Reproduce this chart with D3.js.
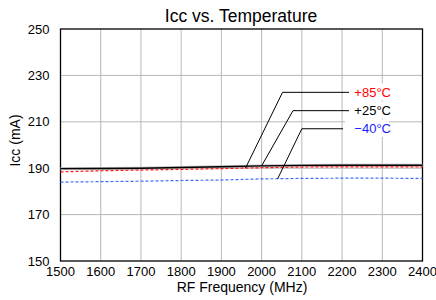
<html>
<head><meta charset="utf-8"/></head>
<script src="https://d3js.org/d3.v7.min.js"></script>
<style>
  body { margin: 0; background: #fff; }
  text { font-family: "Liberation Sans", Arial, sans-serif; }
</style>
<body>
<svg id="chart" width="436" height="300"></svg>
<script>
var freq = [1500, 1600, 1700, 1800, 1900, 2000, 2100, 2200, 2300, 2400];
var icc25 = [189.8, 189.9, 190.0, 190.3, 190.6, 191.0, 191.2, 191.3, 191.3, 191.3];
var icc85 = [188.4, 188.9, 189.2, 189.5, 189.8, 190.2, 190.5, 190.6, 190.6, 190.5];
var iccM40 = [184.0, 184.2, 184.4, 184.7, 184.9, 185.4, 185.6, 185.7, 185.7, 185.6];
var yTicks = [150, 170, 190, 210, 230, 250];
var xTicks = [1500, 1600, 1700, 1800, 1900, 2000, 2100, 2200, 2300, 2400];
var labels = ["+85°C", "+25°C", "\u221240°C"];

var svg = d3.select("#chart");
var mLeft = 60.5, mRight = 422.5, mTop = 29, mBottom = 261;

var x = d3.scaleLinear().domain([1500, 2400]).range([mLeft, mRight]);
var y = d3.scaleLinear().domain([150, 250]).range([mBottom, mTop]);

// grid
svg.append("g").selectAll("line").data(xTicks.slice(1, -1)).enter().append("line")
  .attr("x1", d => x(d)).attr("x2", d => x(d)).attr("y1", mTop).attr("y2", mBottom)
  .attr("stroke", "#b8b8b8").attr("stroke-width", 1);
svg.append("g").selectAll("line").data(yTicks.slice(1, -1)).enter().append("line")
  .attr("x1", mLeft).attr("x2", mRight).attr("y1", d => y(d)).attr("y2", d => y(d))
  .attr("stroke", "#b8b8b8").attr("stroke-width", 1);

svg.append("rect").attr("x", mLeft).attr("y", mTop)
  .attr("width", mRight - mLeft).attr("height", mBottom - mTop)
  .attr("fill", "none").attr("stroke", "#000").attr("stroke-width", 1.3);

// tick labels
svg.append("g").selectAll("text").data(yTicks).enter().append("text")
  .attr("x", 49.5).attr("y", d => y(d)).attr("dy", "0.35em")
  .attr("text-anchor", "end").attr("font-size", 13).text(d => d);
svg.append("g").selectAll("text").data(xTicks).enter().append("text")
  .attr("x", d => x(d)).attr("y", 276)
  .attr("text-anchor", "middle").attr("font-size", 13).text(d => d);

svg.append("text").attr("x", 241).attr("y", 22).attr("text-anchor", "middle")
  .attr("font-size", 17.5).text("Icc vs. Temperature");
svg.append("text").attr("x", 242).attr("y", 292).attr("text-anchor", "middle")
  .attr("font-size", 14).text("RF Frequency (MHz)");
svg.append("text").attr("transform", "translate(20,140.5) rotate(-90)")
  .attr("text-anchor", "middle").attr("font-size", 14).text("Icc (mA)");

var line = d3.line().x((d, i) => x(freq[i])).y(d => y(d));

var series = [
  {v: iccM40, color: "#3f6fff", dash: "3,2", w: 1.2},
  {v: icc25, color: "#000", dash: null, w: 1.4},
  {v: icc85, color: "#ff1a1a", dash: "3,2", w: 1.2}
];
svg.append("path").datum(icc25).attr("d", line).attr("fill", "none")
  .attr("stroke", "#bbb").attr("stroke-width", 3);
series.forEach(function(s) {
  svg.append("path").datum(s.v).attr("d", line).attr("fill", "none")
    .attr("stroke", s.color).attr("stroke-width", s.w)
    .attr("stroke-dasharray", s.dash);
});

// annotations: point on curve (freq), elbow (freq, Icc), text position
var ann = [
  {f: 1960, s: icc85, ex: 2052, ey: 222.7, lx: 349, color: "#ff0000"},
  {f: 2000, s: icc25, ex: 2078, ey: 214.8, lx: 349, color: "#000"},
  {f: 2040, s: iccM40, ex: 2100, ey: 207.0, lx: 343, color: "#1a1aff"}
];
ann.forEach(function(a, k) {
  var i = freq.indexOf(Math.floor(a.f / 100) * 100);
  var t = (a.f - freq[i]) / 100;
  var v = a.s[i] + t * (a.s[i + 1] - a.s[i]);
  svg.append("rect").attr("x", a.lx + 2).attr("y", y(a.ey) - 9)
    .attr("width", 44).attr("height", 17).attr("fill", "#fff");
  svg.append("polyline")
    .attr("points", [[x(a.f), y(v)], [x(a.ex), y(a.ey)], [a.lx, y(a.ey)]].map(p => p.join(",")).join(" "))
    .attr("fill", "none").attr("stroke", "#000").attr("stroke-width", 1);
  svg.append("text").attr("x", 391).attr("y", y(a.ey)).attr("dy", "0.35em")
    .attr("text-anchor", "end").attr("font-size", 13).attr("fill", a.color)
    .text(labels[k]);
});
</script>
</body>
</html>
